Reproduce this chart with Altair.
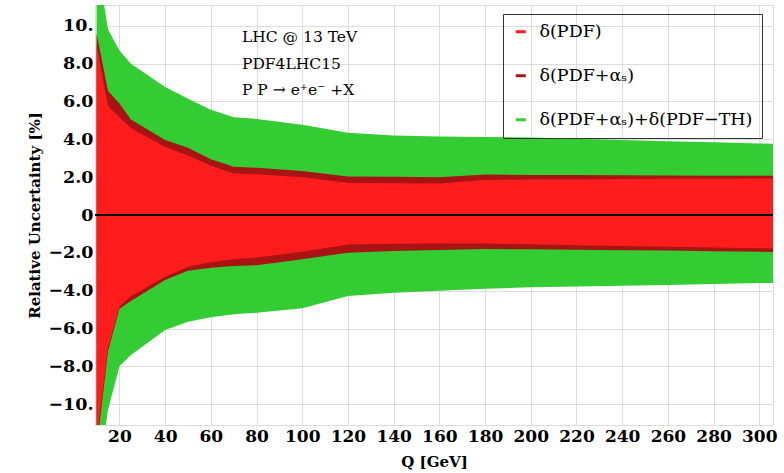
import altair as alt
import pandas as pd

# Q values [GeV]
Q = [10, 15, 20, 25, 40, 50, 60, 70, 80, 100, 120, 140, 160, 180, 200, 220, 240, 260, 280, 300, 306]

# delta(PDF)
red_up = [9.0, 5.75, 5.15, 4.6, 3.6, 3.15, 2.6, 2.2, 2.15, 2.0, 1.7, 1.68, 1.67, 1.85, 1.87, 1.88, 1.9, 1.91, 1.92, 1.93, 1.93]
red_lo = [-12.0, -7.0, -4.85, -4.3, -3.26, -2.73, -2.5, -2.34, -2.25, -1.94, -1.56, -1.52, -1.51, -1.51, -1.55, -1.6, -1.64, -1.68, -1.72, -1.76, -1.77]
# delta(PDF+alpha_s)
dr_up = [9.6, 6.55, 5.9, 5.05, 3.97, 3.55, 2.95, 2.55, 2.5, 2.32, 2.04, 2.02, 2.0, 2.14, 2.12, 2.11, 2.1, 2.09, 2.08, 2.07, 2.07]
dr_lo = [-12.4, -7.2, -4.95, -4.55, -3.44, -2.95, -2.79, -2.7, -2.65, -2.34, -1.99, -1.9, -1.85, -1.8, -1.81, -1.84, -1.86, -1.88, -1.91, -1.94, -1.95]
# delta(PDF+alpha_s) + delta(PDF-TH)
gr_up = [13.6, 9.8, 8.7, 8.0, 6.76, 6.15, 5.56, 5.17, 5.08, 4.77, 4.35, 4.2, 4.15, 4.12, 4.1, 4.03, 3.97, 3.9, 3.84, 3.78, 3.76]
gr_lo = [-14.3, -10.3, -8.0, -7.4, -6.08, -5.64, -5.41, -5.24, -5.17, -4.93, -4.28, -4.11, -4.0, -3.9, -3.82, -3.78, -3.74, -3.7, -3.65, -3.6, -3.59]

bands = ["δ(PDF)", "δ(PDF+αₛ)", "δ(PDF+αₛ)+δ(PDF−TH)"]
colors = ["#fe1c1c", "#a81414", "#33cc33"]

x_ticks = list(range(20, 301, 20))
y_ticks = list(range(-10, 11, 2))

annotations = ["LHC @ 13 TeV", "PDF4LHC15", "P P → e⁺e⁻ +X"]

rows = []
for name, lo, hi in [(bands[0], red_lo, red_up), (bands[1], dr_lo, dr_up), (bands[2], gr_lo, gr_up)]:
    for q, a, b in zip(Q, lo, hi):
        rows.append({"Q": q, "band": name, "lo": a, "hi": b})
df = pd.DataFrame(rows)

xscale = alt.Scale(domain=[9.3, 306], nice=False, zero=False)
yscale = alt.Scale(domain=[-11.1, 11.1], nice=False, zero=False)
cscale = alt.Scale(domain=bands, range=colors)

legend = alt.Legend(
    title=None, orient="none", legendX=408, legendY=9,
    symbolType="M-1,-0.3L1,-0.3L1,0.3L-1,0.3Z", symbolSize=100,
    labelFont="DejaVu Serif", labelFontSize=17.5, labelColor="black",
    labelOffset=10, rowPadding=25, padding=9,
    strokeColor="#333333", labelLimit=400,
)

xaxis = alt.Axis(
    title="Q [GeV]", values=x_ticks, labelFont="DejaVu Serif", labelFontWeight="bold",
    labelFontSize=17, labelColor="black", labelPadding=3, titleFont="DejaVu Serif",
    titleFontWeight="bold", titleFontSize=15, titleColor="black", titlePadding=10,
    grid=True, ticks=False, domain=False,
)
yaxis = alt.Axis(
    title="Relative Uncertainty [%]", values=y_ticks, labelFont="DejaVu Serif",
    labelFontWeight="bold", labelFontSize=17.5, labelColor="black", labelPadding=2,
    labelExpr="datum.value == 0 ? '0' : (abs(datum.value) >= 10 ? format(datum.value, 'd') + '.' : format(datum.value, '.1f'))",
    titleFont="DejaVu Serif", titleFontWeight="bold", titleFontSize=15, titleColor="black",
    titleX=-61, titleY=210, titleBaseline="middle", titleAngle=-90,
    grid=True, ticks=False, domain=False,
)

layers = []
for name in [bands[2], bands[1], bands[0]]:
    layers.append(
        alt.Chart(df).transform_filter(alt.datum.band == name)
        .mark_area(clip=True, interpolate="linear", opacity=1)
        .encode(
            x=alt.X("Q:Q", scale=xscale, axis=xaxis),
            y=alt.Y("lo:Q", scale=yscale, axis=yaxis),
            y2="hi:Q",
            color=alt.Color("band:N", scale=cscale, legend=legend, sort=bands),
        )
    )

zero = alt.Chart(pd.DataFrame({"lo": [0]})).mark_rule(color="black", strokeWidth=2).encode(
    y=alt.Y("lo:Q", scale=yscale, axis=yaxis)
)
layers.append(zero)

for i, line in enumerate(annotations):
    layers.append(
        alt.Chart(pd.DataFrame({"t": [line]})).mark_text(
            align="left", baseline="middle", font="DejaVu Serif", fontSize=15.5, color="black"
        ).encode(x=alt.value(147), y=alt.value(32 + 26.5 * i), text="t:N")
    )

chart = alt.layer(*layers).properties(
    width=678, height=420,
    autosize=alt.AutoSizeParams(type="none"),
    padding={"left": 95, "top": 5, "right": 11, "bottom": 48},
).configure_view(
    stroke="#666666", strokeWidth=1.5
).configure_axis(
    gridDash=[1, 2.5], gridColor="#b0b0b0", gridWidth=1,
).configure(background="white")

chart.save("out.html", embed_options={"renderer": "svg", "actions": False})
